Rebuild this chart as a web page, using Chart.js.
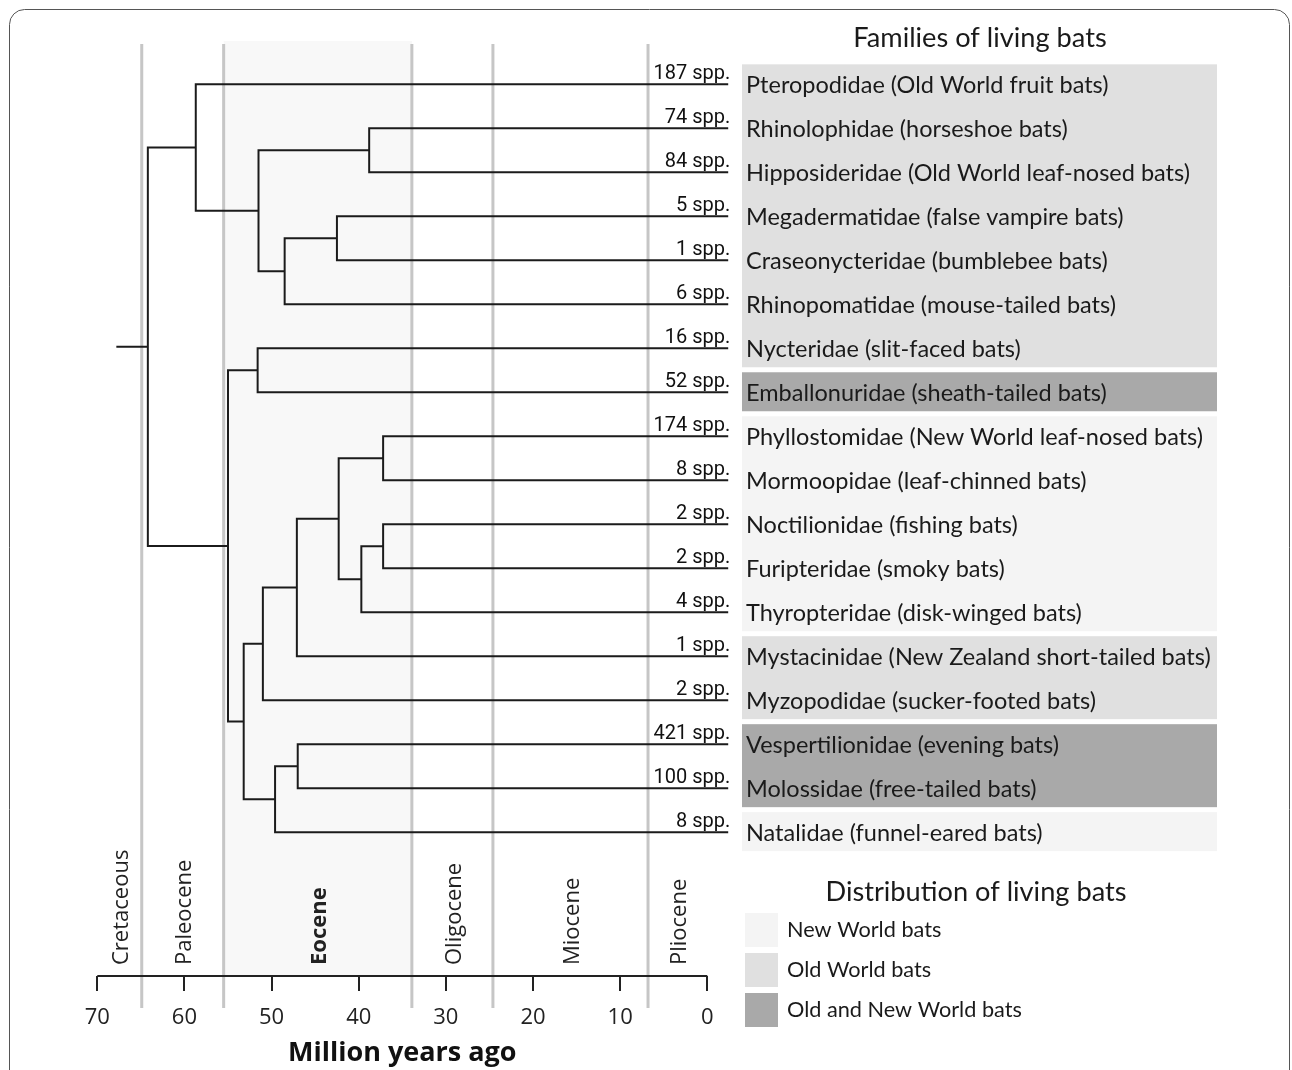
<!DOCTYPE html>
<html>
<head>
<meta charset="utf-8">
<script src="https://cdn.jsdelivr.net/npm/chart.js@4.4.1/dist/chart.umd.min.js"></script>
<style>
  html, body { margin: 0; padding: 0; background: #fff; }
  #wrap { width: 1292px; height: 1070px; position: relative; }
</style>
</head>
<body>
<div id="wrap"><canvas id="chart"></canvas></div>
<script>
// --- data -------------------------------------------------------------
const families = ['Pteropodidae', 'Rhinolophidae', 'Hipposideridae', 'Megadermatidae', 'Craseonycteridae',
  'Rhinopomatidae', 'Nycteridae', 'Emballonuridae', 'Phyllostomidae', 'Mormoopidae', 'Noctilionidae',
  'Furipteridae', 'Thyropteridae', 'Mystacinidae', 'Myzopodidae', 'Vespertilionidae', 'Molossidae', 'Natalidae'];
const commonNames = ['Old World fruit bats', 'horseshoe bats', 'Old World leaf-nosed bats', 'false vampire bats',
  'bumblebee bats', 'mouse-tailed bats', 'slit-faced bats', 'sheath-tailed bats', 'New World leaf-nosed bats',
  'leaf-chinned bats', 'fishing bats', 'smoky bats', 'disk-winged bats', 'New Zealand short-tailed bats',
  'sucker-footed bats', 'evening bats', 'free-tailed bats', 'funnel-eared bats'];
const speciesCounts = [187, 74, 84, 5, 1, 6, 16, 52, 174, 8, 2, 2, 4, 1, 2, 421, 100, 8];
const distribution = ['old', 'old', 'old', 'old', 'old', 'old', 'old', 'both', 'new', 'new', 'new', 'new', 'new',
  'old', 'old', 'both', 'both', 'new'];

const distKeys = ['new', 'old', 'both'];
const distLabels = ['New World bats', 'Old World bats', 'Old and New World bats'];
const distColors = ['#f4f4f4', '#e0e0e0', '#a9a9a9'];

// clades (node ages in million years ago); a child is a leaf index or a clade name
const cladeNames = ['root', 'yinpt', 'rhinolophoidea', 'rhinHipp', 'megaGroup', 'megaCras', 'yango',
  'emballonuroidea', 'noctVesp', 'noctMyz', 'noctMyst', 'noctilionoidea', 'phylMorm', 'noctFurThy', 'noctFur',
  'vespertilionoidea', 'vespMol'];
const cladeAges = [64.2, 58.7, 51.5, 38.8, 48.5, 42.5, 55.0, 51.6, 53.2, 51.0, 47.1, 42.3, 37.2, 39.7, 37.2, 49.6, 47.0];
const cladeChildren = [
  ['yinpt', 'yango'], [0, 'rhinolophoidea'], ['rhinHipp', 'megaGroup'], [1, 2], ['megaCras', 5], [3, 4],
  ['emballonuroidea', 'noctVesp'], [6, 7], ['noctMyz', 'vespertilionoidea'], ['noctMyst', 14],
  ['noctilionoidea', 13], ['phylMorm', 'noctFurThy'], [8, 9], ['noctFur', 12], [10, 11],
  ['vespMol', 17], [15, 16]];
const rootStemAge = 67.7;
const tipAge = -2.4;

const epochNames = ['Cretaceous', 'Paleocene', 'Eocene', 'Oligocene', 'Miocene', 'Pliocene'];
const epochBounds = [70, 64.9, 55.5, 33.9, 24.6, 6.8, 0];
const xTicks = [70, 60, 50, 40, 30, 20, 10, 0];

// --- tree geometry ----------------------------------------------------
const yMemo = {};
function nodeY(c) {
  if (typeof c === 'number') return c;
  if (yMemo[c] === undefined) {
    const ch = cladeChildren[cladeNames.indexOf(c)];
    yMemo[c] = (nodeY(ch[0]) + nodeY(ch[1])) / 2;
  }
  return yMemo[c];
}
function nodeAge(c) {
  return typeof c === 'number' ? tipAge : cladeAges[cladeNames.indexOf(c)];
}

const treePoints = [];
const rootY = nodeY('root');
treePoints.push({ x: rootStemAge, y: rootY }, { x: cladeAges[0], y: rootY }, { x: cladeAges[0], y: null });
cladeNames.forEach((name, i) => {
  const [a, b] = cladeChildren[i];
  const age = cladeAges[i];
  treePoints.push(
    { x: nodeAge(a), y: nodeY(a) },
    { x: age, y: nodeY(a) },
    { x: age, y: nodeY(b) },
    { x: nodeAge(b), y: nodeY(b) },
    { x: age, y: null }
  );
});

// --- drawing helpers --------------------------------------------------
const SANS = "'Open Sans', sans-serif";
const LABEL = "Lato, 'Noto Sans', sans-serif";
const NARROW = "'Liberation Sans Narrow', 'Roboto', sans-serif";
const BOX_L = 742, BOX_R = 1217;

const decor = {
  id: 'decor',
  beforeDatasetsDraw(chart) {
    const { ctx, chartArea: ca, scales: { x } } = chart;
    ctx.save();
    // Eocene shading
    ctx.fillStyle = '#f8f8f8';
    const e0 = x.getPixelForValue(epochBounds[2]), e1 = x.getPixelForValue(epochBounds[3]);
    ctx.fillRect(e0, ca.top, e1 - e0, ca.bottom - ca.top);
    // epoch boundaries
    ctx.strokeStyle = '#c6c6c6';
    ctx.lineWidth = 3;
    epochBounds.slice(1, -1).forEach(v => {
      const px = x.getPixelForValue(v);
      ctx.beginPath();
      ctx.moveTo(px, ca.top + 3);
      ctx.lineTo(px, ca.bottom + 32);
      ctx.stroke();
    });
    // epoch names
    ctx.fillStyle = '#222';
    ctx.textAlign = 'left';
    ctx.textBaseline = 'middle';
    epochNames.forEach((n, i) => {
      const px = x.getPixelForValue((epochBounds[i] + epochBounds[i + 1]) / 2);
      ctx.save();
      ctx.translate(px + 2, ca.bottom - 11);
      ctx.rotate(-Math.PI / 2);
      ctx.font = (n === 'Eocene' ? 'bold ' : '') + '22px ' + SANS;
      ctx.fillText(n, 0, 0);
      ctx.restore();
    });
    ctx.restore();
  },
  afterDatasetsDraw(chart) {
    const { ctx, chartArea: ca, scales: { x, y } } = chart;
    ctx.save();
    // axis baseline 70..0
    ctx.strokeStyle = '#222';
    ctx.lineWidth = 2;
    ctx.beginPath();
    ctx.moveTo(x.getPixelForValue(70), ca.bottom);
    ctx.lineTo(x.getPixelForValue(0), ca.bottom);
    ctx.stroke();
    // axis title
    ctx.fillStyle = '#111';
    ctx.font = 'bold 27px ' + SANS;
    ctx.textAlign = 'center';
    ctx.textBaseline = 'middle';
    ctx.fillText('Million years ago', (x.getPixelForValue(70) + x.getPixelForValue(0)) / 2, 1053);

    // species counts
    ctx.font = '20px ' + NARROW;
    ctx.textAlign = 'right';
    ctx.textBaseline = 'alphabetic';
    speciesCounts.forEach((n, i) => {
      ctx.fillText(n + ' spp.', x.getPixelForValue(tipAge) + 2, y.getPixelForValue(i) - 5);
    });

    // distribution boxes (contiguous runs)
    let start = 0;
    for (let i = 1; i <= distribution.length; i++) {
      if (i === distribution.length || distribution[i] !== distribution[start]) {
        ctx.fillStyle = distColors[distKeys.indexOf(distribution[start])];
        const top = y.getPixelForValue(start - 0.5) + 2;
        const bot = y.getPixelForValue(i - 1 + 0.5) - 3;
        ctx.fillRect(BOX_L, top, BOX_R - BOX_L, bot - top);
        start = i;
      }
    }
    // family names
    ctx.fillStyle = '#1a1a1a';
    ctx.font = '23.5px ' + LABEL;
    ctx.textAlign = 'left';
    ctx.textBaseline = 'middle';
    families.forEach((f, i) => {
      ctx.fillText(f + ' (' + commonNames[i] + ')', 746, y.getPixelForValue(i) + 1);
    });

    // headings
    ctx.font = '27.2px ' + LABEL;
    ctx.textAlign = 'center';
    ctx.fillText('Families of living bats', 980, 38);
    ctx.fillText('Distribution of living bats', 976, 892);

    // legend
    ctx.font = '21.7px ' + LABEL;
    ctx.textAlign = 'left';
    distLabels.forEach((l, i) => {
      const top = 913 + i * 40;
      ctx.fillStyle = distColors[i];
      ctx.fillRect(745, top, 33, 34);
      ctx.fillStyle = '#1a1a1a';
      ctx.fillText(l, 787, top + 17);
    });

    // frame
    ctx.strokeStyle = '#555';
    ctx.lineWidth = 1;
    ctx.beginPath();
    ctx.roundRect(9.5, 9.5, 1280, 1100, 15);
    ctx.stroke();
    ctx.restore();
  }
};

new Chart(document.getElementById('chart'), {
  type: 'scatter',
  data: {
    datasets: [{
      data: treePoints,
      showLine: true,
      spanGaps: false,
      borderColor: '#1b1b1b',
      borderWidth: 2,
      borderJoinStyle: 'miter',
      borderCapStyle: 'square',
      pointRadius: 0,
      tension: 0
    }]
  },
  options: {
    responsive: true,
    maintainAspectRatio: false,
    animation: false,
    events: [],
    layout: { padding: { left: 97.3, right: 563.8, top: 41, bottom: 0 } },
    plugins: { legend: { display: false }, tooltip: { enabled: false } },
    scales: {
      x: {
        type: 'linear',
        reverse: true,
        min: tipAge,
        max: 70,
        afterFit: s => { s.height = 94; },
        afterBuildTicks: s => { s.ticks = xTicks.map(v => ({ value: v })); },
        border: { display: false },
        grid: { drawOnChartArea: false, drawTicks: true, tickLength: 15, color: '#222', lineWidth: 2 },
        ticks: { font: { family: SANS, size: 22 }, color: '#222', padding: 14, maxRotation: 0, autoSkip: false }
      },
      y: {
        type: 'linear',
        reverse: true,
        min: -0.985,
        max: 20.27,
        display: false
      }
    }
  },
  plugins: [decor]
});
</script>
</body>
</html>
